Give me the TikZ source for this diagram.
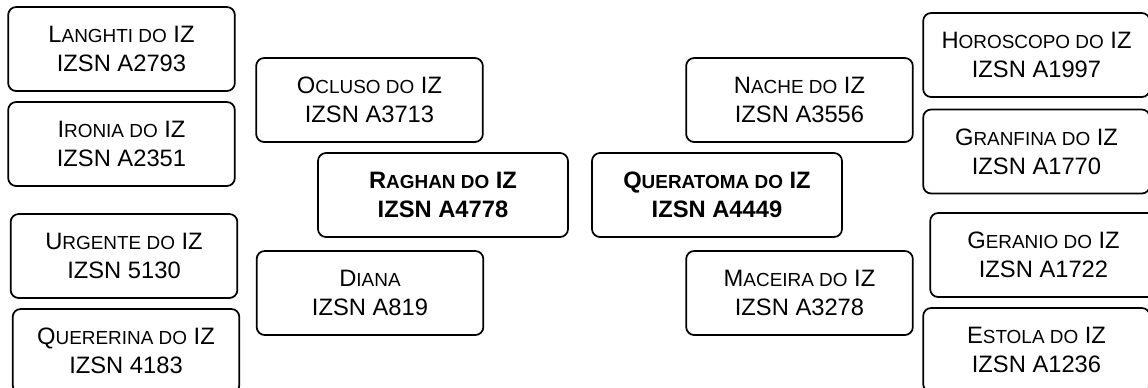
\documentclass[tikz,border=0pt]{standalone}
\usepackage{fontspec}
\setmainfont{Liberation Sans}
\newcommand\smc[1]{{\fontsize{14.2}{16}\selectfont #1}}
\tikzset{
  box/.style={draw=black, line width=1.3pt, rounded corners=6pt, fill=white,
    minimum width=170pt, minimum height=63pt, align=center, inner sep=2pt,
    font=\fontsize{17.8}{21.5}\selectfont},
  mainbox/.style={box, minimum width=187.5pt, font=\fontsize{17.8}{21.5}\selectfont\bfseries}
}
\begin{document}
\begin{tikzpicture}[x=0.75pt, y=-0.75pt]
\useasboundingbox (0,0) rectangle (1148,387);
\clip (0,0) rectangle (1148,387);
% left column
\node[box] (langhti) at (121.5,49) {L\smc{ANGHTI DO} IZ\\IZSN A2793};
\node[box] (ironia) at (121.5,144) {I\smc{RONIA DO} IZ\\IZSN A2351};
\node[box] (urgente) at (124,256) {U\smc{RGENTE DO} IZ\\IZSN 5130};
\node[box] (quererina) at (126,351) {Q\smc{UERERINA DO} IZ\\IZSN 4183};
% inner left
\node[box] (ocluso) at (369.5,100) {O\smc{CLUSO DO} IZ\\IZSN A3713};
\node[box] (diana) at (370,293) {D\smc{IANA}\\IZSN A819};
% centres
\node[mainbox] (raghan) at (443,195) {R\smc{AGHAN DO} IZ\\IZSN A4778};
\node[mainbox] (queratoma) at (717,195) {Q\smc{UERATOMA DO} IZ\\IZSN A4449};
% inner right
\node[box] (nache) at (799.5,100) {N\smc{ACHE DO} IZ\\IZSN A3556};
\node[box] (maceira) at (799.5,293) {M\smc{ACEIRA DO} IZ\\IZSN A3278};
% right column
\node[box] (horoscopo) at (1036.5,55) {H\smc{OROSCOPO DO} IZ\\IZSN A1997};
\node[box] (granfina) at (1036.5,151.5) {G\smc{RANFINA DO} IZ\\IZSN A1770};
\node[box] (geranio) at (1043.5,255) {G\smc{ERANIO DO} IZ\\IZSN A1722};
\node[box] (estola) at (1036.5,350) {E\smc{STOLA DO} IZ\\IZSN A1236};
\end{tikzpicture}
\end{document}
